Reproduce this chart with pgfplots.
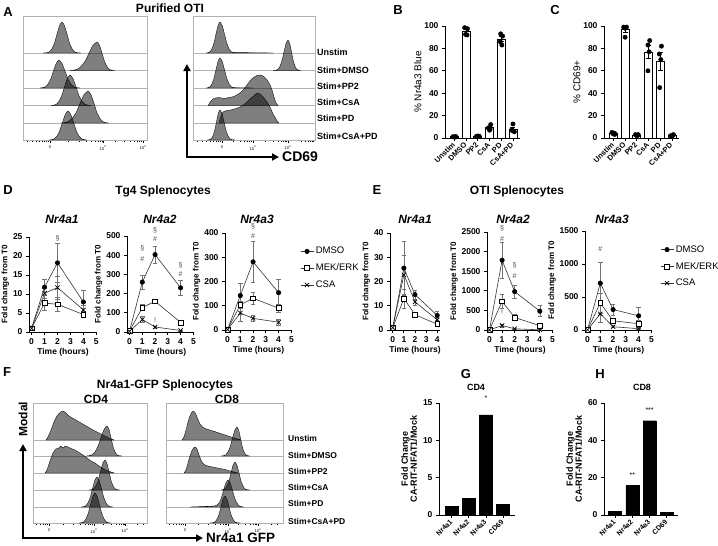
\documentclass[border=0pt]{standalone}
\usepackage{fontspec}
\setmainfont{Liberation Sans}
\usepackage{pgfplots}
\pgfplotsset{compat=1.18}
\usetikzlibrary{arrows.meta}

\newcommand{\fs}[1]{\fontsize{#1}{#1}\selectfont}

\pgfplotsset{
  gp/.style={scale only axis, clip=false,
    axis x line*=bottom, axis y line*=left,
    axis line style={line width=0.9pt,-},
    every tick/.style={black,line width=0.8pt},
    major tick length=3pt, tick align=outside,
    tick label style={font=\bfseries\fs{8.5}},
    /pgf/number format/assume math mode=true,
    /pgf/number format/1000 sep={},
    scaled ticks=false,
    xlabel style={font=\bfseries\fs{8.5}, yshift=3pt},
    ylabel style={font=\bfseries\fs{8}, yshift=-3pt}},
  tc/.style={gp, xmin=-0.2, xmax=5.05, xtick={0,...,5}, ymin=0,
    xlabel={Time (hours)}, ylabel={Fold change from T0}},
  bc/.style={gp, ymin=0, xmin=-0.8, xmax=5.6, ymax=100, ytick={0,20,...,100},
    xtick={0,...,5}, xticklabels={Unstim,DMSO,PP2,CsA,PD,CsA+PD},
    xticklabel style={rotate=45, anchor=east, font=\bfseries\fs{7.5}, yshift=-1.5pt, xshift=1pt},
    ylabel style={font=\fs{10}, yshift=-1pt}},
  hist/.style={scale only axis, ymin=0, xmin=0,
    axis line style={gray!60, line width=0.5pt},
    ytick=\empty, xtick pos=left, tick align=outside,
    major tick length=2.5pt, minor tick length=1.5pt,
    every tick/.style={black,line width=0.4pt},
    tick label style={font=\fs{4}},
    xticklabels={0,10\textsuperscript{3},10\textsuperscript{4}}},
  hf/.style={smooth, tension=0.35, fill=black, fill opacity=0.5, draw=black, line width=0.35pt, mark=none},
  bl/.style={gray!60, line width=0.4pt, mark=none},
  eb/.style={error bars/.cd, y dir=both, y explicit,
    error bar style={black!55, line width=0.5pt},
    error mark options={rotate=90, black!55, line width=0.5pt, mark size=2.2pt}},
  s1/.style={black!80, line width=0.6pt, mark=*, mark size=2.2pt, mark options={fill=black, draw=black}, eb},
  s2/.style={black!80, line width=0.6pt, mark=square*, mark size=2.4pt, mark options={fill=white, draw=black, line width=0.6pt}, eb},
  s3/.style={black!80, line width=0.6pt, mark=x, mark size=3pt, mark options={draw=black, line width=0.7pt}, eb},
  lg/.style={legend style={at={(#1)}, anchor=north west, draw=none, fill=none, font=\fs{9.5}, row sep=4.5pt, inner sep=0pt, cells={anchor=west}},
    legend image code/.code={\draw[mark repeat=2, mark phase=2, ##1] plot coordinates {(0pt,0pt) (6.5pt,0pt) (13pt,0pt)};}},
  bareb/.style={error bars/.cd, y dir=both, y explicit, error bar style={line width=0.8pt},
    error mark options={rotate=90, line width=0.8pt, mark size=2.5pt}},
  gh/.style={gp, xtick={0,...,3}, xticklabels={Nr4a1,Nr4a2,Nr4a3,CD69},
    xticklabel style={rotate=45, anchor=east, font=\bfseries\fs{7}, yshift=-1.5pt, xshift=1pt},
    ylabel={Fold Change\\CA-RIT-NFAT1/Mock}, ylabel style={align=center, font=\bfseries\fs{9}, yshift=2pt}},
}

\begin{document}
\begin{tikzpicture}
\path[use as bounding box] (0,0) rectangle (718pt,-546pt);

% ---------- panel letters and titles
\foreach \l/\x/\y in {A/8/12, B/398/10, C/555/10, D/8/190, E/377/190, F/7/372, G/466/374, H/600/374}
  \node[font=\bfseries\fs{13}] at (\x pt,-\y pt) {\l};
\node[font=\bfseries\fs{12}] at (170pt,-8pt) {Purified OTI};
\node[font=\bfseries\fs{12}] at (163pt,-191pt) {Tg4 Splenocytes};
\node[font=\bfseries\fs{12}] at (517pt,-191pt) {OTI Splenocytes};
\node[font=\bfseries\fs{12}] at (165pt,-385pt) {Nr4a1-GFP Splenocytes};
\node[font=\bfseries\fs{12}] at (96pt,-399pt) {CD4};
\node[font=\bfseries\fs{12}] at (227pt,-399pt) {CD8};
\foreach \t/\x in {Nr4a1/62, Nr4a2/160, Nr4a3/257, Nr4a1/415, Nr4a2/513, Nr4a3/612}
  \node[font=\bfseries\itshape\fs{12}] at (\x pt,-219pt) {\t};
\node[font=\bfseries\fs{9}] at (476pt,-387pt) {CD4};
\node[font=\bfseries\fs{9}] at (642pt,-387pt) {CD8};

% ---------- A histograms (left)
\begin{axis}[hist, at={(23pt,-140pt)}, anchor=south west, width=124pt, height=124pt,
  xmax=124, ymax=124, xtick={27,80,120},
  minor xtick={4,9,13,16,19,21,23,25,45,56,63,68,72,75,77,79,92,101,107,111,114,116,118}]
\addplot[bl] coordinates {(0,87) (124,87)};
\addplot[bl] coordinates {(0,69.5) (124,69.5)};
\addplot[bl] coordinates {(0,52) (124,52)};
\addplot[bl] coordinates {(0,34.5) (124,34.5)};
\addplot[bl] coordinates {(0,17) (124,17)};
\addplot[hf] coordinates {(20,87) (24,87.3) (26.5,88.2) (29,91.3) (31.5,97) (34,106) (36.5,114.3) (39,118) (41.5,114.3) (44,106) (46.5,97) (49,91.3) (51.5,88.2) (54,87.3) (58,87)} -- cycle;
\addplot[hf] coordinates {(47,69.5) (50,69.8) (54,70.6) (58,73.5) (62,78.6) (66,86.9) (70,94.6) (74,98) (76.5,94.6) (79,86.9) (81.5,78.6) (84,73.5) (86.5,70.6) (89,69.8) (92,69.5)} -- cycle;
\addplot[hf] coordinates {(17,52) (19.5,52.3) (22.25,53.1) (25,55.9) (27.75,61) (30.5,69.1) (33.25,76.6) (36,80) (39,76.6) (42,69.1) (45,61) (48,55.9) (51,53.1) (54,52.3) (57,52)} -- cycle;
\addplot[hf] coordinates {(28,34.5) (30.5,34.8) (33.25,35.7) (36,38.8) (38.75,44.3) (41.5,53.1) (44.25,61.3) (47,65) (50,61.3) (53,53.1) (56,44.3) (59,38.8) (62,35.7) (65,34.8) (68,34.5)} -- cycle;
\addplot[hf] coordinates {(38,17) (41,17.3) (45,18.3) (49,21.5) (53,27.2) (57,36.5) (61,45.2) (65,49) (68,45.2) (71,36.5) (74,27.2) (77,21.5) (80,18.3) (83,17.3) (86,17)} -- cycle;
\addplot[hf] coordinates {(26,0) (28.5,0.3) (31.25,1.2) (34,3.9) (36.75,9.3) (39.5,17.7) (42.25,25.5) (45,29) (47.75,25.5) (50.5,17.7) (53.25,9.3) (56,3.9) (58.75,1.2) (61.5,0.3) (64,0)} -- cycle;
\end{axis}

% ---------- A histograms (right)
\begin{axis}[hist, at={(193pt,-140pt)}, anchor=south west, width=122pt, height=124pt,
  xmax=122, ymax=124, xtick={29,60,95},
  minor xtick={4,9,13,17,20,23,25,27,40,47,51,54,56,58,72,80,85,88,90,92,93.5,108,112,115,117,119,120.5}]
\addplot[bl] coordinates {(0,87) (122,87)};
\addplot[bl] coordinates {(0,69.5) (122,69.5)};
\addplot[bl] coordinates {(0,52) (122,52)};
\addplot[bl] coordinates {(0,34.5) (122,34.5)};
\addplot[bl] coordinates {(0,17) (122,17)};
\addplot[hf] coordinates {(13,87) (15,87.3) (17,88.2) (19,91.3) (21,97) (23,106) (25,114.3) (27,118) (29.25,114.3) (31.5,106) (33.75,97) (36,91.3) (38.25,88.2) (40.5,87.6) (50,87.4) (65,87.2) (80,87)} -- cycle;
\addplot[hf] coordinates {(80,69.5) (83,69.8) (85,70.7) (87,73.8) (89,79.3) (91,88.1) (93,96.3) (95,100) (96.75,96.3) (98.5,88.1) (100.25,79.3) (102,73.8) (103.75,70.7) (105.5,69.8) (108,69.5)} -- cycle;
\addplot[hf] coordinates {(13,52) (15,52.3) (17,53.2) (19,56.2) (21,61.6) (23,70.3) (25,78.4) (27,82) (29.25,78.4) (31.5,70.3) (33.75,61.6) (36,56.2) (38.25,53.2) (40.5,52.4) (50,52.2) (60,52)} -- cycle;
\addplot[hf] coordinates {(15,34.5) (18,39) (21,41.5) (26,42.5) (31,41.5) (36,42.5) (41,43.5) (47,47) (51,51) (54,55) (57,59) (60,62) (64,64.5) (67,65) (70,64) (74,60) (77,55) (79,50) (81,43) (83,37) (85,34.5)} -- cycle;
\addplot[hf] coordinates {(26,17) (28,24) (30,28) (34,29.5) (38,30) (43,31.5) (47,33) (51,35.5) (54,38) (57,41) (60,43.5) (64,47) (67,46) (70,43) (74,38) (77,33) (80,26) (82,23) (84,19) (86,17)} -- cycle;
\addplot[hf] coordinates {(14,0) (16.5,0.3) (18.25,1.2) (20,4.2) (21.75,9.6) (23.5,18.3) (25.25,26.4) (27,30) (29,26.4) (31,18.3) (33,9.6) (35,4.2) (37,1.2) (39,0.3) (42,0)} -- cycle;
\end{axis}
\foreach \t/\y in {Unstim/52, Stim+DMSO/70, Stim+PP2/86, Stim+CsA/102, Stim+PD/118, Stim+CsA+PD/136}
  \node[font=\bfseries\fs{9}, anchor=west, inner sep=0pt] at (317pt,-\y pt) {\t};
\draw[line width=1.8pt, {Triangle[length=7pt,width=7pt]}-{Triangle[length=7pt,width=7pt]}] (187pt,-64pt) -- (187pt,-157pt) -- (279pt,-157pt);
\node[font=\bfseries\fs{14}, anchor=west, inner sep=0pt] at (282pt,-157pt) {CD69};

% ---------- B
\begin{axis}[bc, at={(445pt,-138pt)}, anchor=south west, width=75pt, height=112pt, ylabel={\% Nr4a3 Blue}]
\addplot[ybar, bar width=8pt, fill=white, draw=black, line width=0.9pt, bareb]
  coordinates {(0,1.1) +- (0,0.2) (1,95.1) +- (0,1.7) (2,1.5) +- (0,0.2) (3,9) +- (0,1.1) (4,88.3) +- (0,2.2) (5,7.9) +- (0,1.5)};
\addplot[only marks, mark=*, mark size=2.2pt, black] coordinates {
  (-0.12,1.2) (0.1,1) (0,0.8) (0.12,1.3)
  (0.88,98.5) (1.12,97.5) (0.95,92.5) (1.08,92)
  (1.88,1.5) (2.1,1.2) (2,1.8) (2.12,1.6)
  (3.1,12) (2.9,9) (3,7) (3.05,8)
  (3.95,93) (4.12,91) (3.92,86) (4.05,83)
  (5,12.5) (4.88,7) (5.12,5.5) (5,6.5)};
\end{axis}

% ---------- C
\begin{axis}[bc, at={(604pt,-138pt)}, anchor=south west, width=75pt, height=112pt, ylabel={\% CD69+}]
\addplot[ybar, bar width=8pt, fill=white, draw=black, line width=0.9pt, bareb]
  coordinates {(0,4) +- (0,0.4) (1,96.5) +- (0,2.2) (2,2.6) +- (0,0.3) (3,76.8) +- (0,5.9) (4,68) +- (0,8) (5,2.2) +- (0,0.3)};
\addplot[only marks, mark=*, mark size=2.2pt, black] coordinates {
  (-0.12,5) (0.1,4.3) (0,3.6) (0.12,3.2)
  (0.88,99) (1.12,99) (1,98) (1,90)
  (1.88,3) (2.1,2.5) (2,2) (2.12,3)
  (3.1,87) (2.95,83) (3.05,77) (2.95,60)
  (4.1,82) (3.92,75) (4.05,70) (3.95,45)
  (4.88,2) (5.1,2.5) (5,1.5) (5.12,3)};
\end{axis}

% ---------- D
\begin{axis}[tc, at={(29pt,-332pt)}, anchor=south west, width=68pt, height=95pt, ymax=25, ytick={0,5,...,25}]
\addplot[s1] coordinates {(0,1) +- (0,0.2) (1,11.8) +- (0,2.2) (2,18.2) +- (0,5.2) (4,7.9) +- (0,3.0)};
\addplot[s2] coordinates {(0,1) +- (0,0.2) (1,7.6) +- (0,2.0) (2,7.3) +- (0,1.8) (4,4.6) +- (0,0.8)};
\addplot[s3] coordinates {(0,1) +- (0,0.2) (1,10.2) +- (0,1.2) (2,11.7) +- (0,3.1) (4,5.8) +- (0,1.2)};
\node[font=\fs{7}, black!70] at (axis cs:2,24.8) {§};
\end{axis}
\begin{axis}[tc, at={(127pt,-332pt)}, anchor=south west, width=67pt, height=96pt, ymax=500, ytick={0,100,...,500}]
\addplot[s1] coordinates {(0,5) +- (0,1) (1,260) +- (0,35) (2,403) +- (0,45) (4,230) +- (0,38)};
\addplot[s2] coordinates {(0,5) +- (0,1) (1,127) +- (0,15) (2,160) +- (0,8) (4,50) +- (0,6)};
\addplot[s3] coordinates {(0,3) +- (0,1) (1,65) +- (0,15) (2,26) +- (0,6) (4,8) +- (0,3)};
\node[font=\fs{7}, black!70] at (axis cs:1,382) {\#};
\node[font=\fs{7}, black!70] at (axis cs:1,434) {§};
\node[font=\fs{7}, black!70] at (axis cs:2,483) {\#};
\node[font=\fs{7}, black!70] at (axis cs:2,530) {§};
\node[font=\fs{7}, black!70] at (axis cs:4,304) {\#};
\node[font=\fs{7}, black!70] at (axis cs:4,347) {§};
\node[font=\fs{7}, black!70] at (axis cs:2,62) {!};
\end{axis}
\begin{axis}[tc, at={(225pt,-330pt)}, anchor=south west, width=67pt, height=97pt, ymax=400, ytick={0,100,...,400},
  lg={1.12,0.875}]
\addplot[s1] coordinates {(0,2) +- (0,1) (1,142) +- (0,50) (2,281) +- (0,85) (4,154) +- (0,57)};
\addlegendentry{DMSO}
\addplot[s2] coordinates {(0,2) +- (0,1) (1,104) +- (0,15) (2,131) +- (0,25) (4,90) +- (0,15)};
\addlegendentry{MEK/ERK}
\addplot[s3] coordinates {(0,2) +- (0,1) (1,70) +- (0,33) (2,48) +- (0,13) (4,32) +- (0,14)};
\addlegendentry{CSA}
\node[font=\fs{7}, black!70] at (axis cs:2,386) {\#};
\node[font=\fs{7}, black!70] at (axis cs:2,427) {§};
\end{axis}

% ---------- E
\begin{axis}[tc, at={(390pt,-330pt)}, anchor=south west, width=50pt, height=97pt, xmin=-0.25, xmax=4.25, xtick={0,...,4},
  ymax=40, ytick={0,10,...,40}]
\addplot[s1] coordinates {(0,1) +- (0,0.3) (1,25.5) +- (0,11.2) (2,14.6) +- (0,1.8) (4,6) +- (0,1.8)};
\addplot[s2] coordinates {(0,1) +- (0,0.3) (1,13) +- (0,4) (2,6.3) +- (0,0.6) (4,2.4) +- (0,0.5)};
\addplot[s3] coordinates {(0,1) +- (0,0.3) (1,22.8) +- (0,8) (2,11.6) +- (0,1.2) (4,4.2) +- (0,0.8)};
\end{axis}
\begin{axis}[tc, at={(487pt,-330pt)}, anchor=south west, width=66pt, height=98pt, ymax=2500, ytick={0,500,...,2500}]
\addplot[s1] coordinates {(0,5) +- (0,2) (1,1780) +- (0,450) (2,980) +- (0,160) (4,480) +- (0,140)};
\addplot[s2] coordinates {(0,5) +- (0,2) (1,730) +- (0,180) (2,320) +- (0,80) (4,110) +- (0,30)};
\addplot[s3] coordinates {(0,3) +- (0,1) (1,115) +- (0,40) (2,30) +- (0,10) (4,5) +- (0,3)};
\node[font=\fs{7}, black!70] at (axis cs:1,2330) {\#};
\node[font=\fs{7}, black!70] at (axis cs:1,2600) {§};
\node[font=\fs{7}, black!70] at (axis cs:2,1380) {\#};
\node[font=\fs{7}, black!70] at (axis cs:2,1640) {§};
\node[font=\fs{7}, black!70] at (axis cs:1,450) {!};
\end{axis}
\begin{axis}[tc, at={(585pt,-330pt)}, anchor=south west, width=67pt, height=99pt, ymax=1500, ytick={0,500,1000,1500},
  lg={1.12,0.875}]
\addplot[s1] coordinates {(0,5) +- (0,2) (1,710) +- (0,320) (2,310) +- (0,80) (4,215) +- (0,125)};
\addlegendentry{DMSO}
\addplot[s2] coordinates {(0,5) +- (0,2) (1,410) +- (0,150) (2,140) +- (0,30) (4,95) +- (0,60)};
\addlegendentry{MEK/ERK}
\addplot[s3] coordinates {(0,3) +- (0,1) (1,245) +- (0,130) (2,50) +- (0,15) (4,20) +- (0,10)};
\addlegendentry{CSA}
\node[font=\fs{7}, black!70] at (axis cs:1,1230) {\#};
\end{axis}

% ---------- F histograms (CD4)
\begin{axis}[hist, at={(33pt,-523pt)}, anchor=south west, width=114pt, height=120pt,
  xmax=114, ymax=120, xtick={16,61,92},
  minor xtick={3,7,10,12,14,30,40,47,52,55,57,59,70,78,83,86,88,90,91,104,110}]
\addplot[bl] coordinates {(0,83) (114,83)};
\addplot[bl] coordinates {(0,67) (114,67)};
\addplot[bl] coordinates {(0,50) (114,50)};
\addplot[bl] coordinates {(0,33) (114,33)};
\addplot[bl] coordinates {(0,16) (114,16)};
\addplot[hf] coordinates {(13,83) (15,86) (18,93) (21,101) (24,107) (27,110.5) (30,112) (33,110) (36,107) (42,103.5) (48,100) (54,96.5) (60,93) (66,90) (72,87) (77,84.5) (81,83)} -- cycle;
\addplot[hf] coordinates {(53,67) (56,67.3) (59,68.2) (62,71.2) (65,76.6) (68,85.3) (71,93.4) (74,97) (76,93.4) (78,85.3) (80,76.6) (82,71.2) (84,68.2) (86,67.3) (89,67)} -- cycle;
\addplot[hf] coordinates {(12,50) (14,53) (17,62) (20,70) (23,74) (26,75) (28,77) (30,75) (32,77) (35,76) (38,74.5) (42,73) (46,70.5) (50,68) (54,65) (58,62) (62,60) (66,57) (70,54.5) (74,52.5) (78,51) (81,50)} -- cycle;
\addplot[hf] coordinates {(56,33) (58.5,33.3) (60.75,34.2) (63,37.2) (65.25,42.6) (67.5,51.3) (69.75,59.4) (72,63) (74,59.4) (76,51.3) (78,42.6) (80,37.2) (82,34.2) (84,33.3) (87,33)} -- cycle;
\addplot[hf] coordinates {(48,16) (50.5,16.3) (52.75,17.2) (55,20.2) (57.25,25.6) (59.5,34.3) (61.75,42.4) (64,46) (66.25,42.4) (68.5,34.3) (70.75,25.6) (73,20.2) (75.25,17.2) (77.5,16.3) (80,16)} -- cycle;
\addplot[hf] coordinates {(46,0) (48.5,0.3) (50.75,1.2) (53,4.2) (55.25,9.6) (57.5,18.3) (59.75,26.4) (62,30) (64.25,26.4) (66.5,18.3) (68.75,9.6) (71,4.2) (73.25,1.2) (75.5,0.3) (78,0)} -- cycle;
\end{axis}

% ---------- F histograms (CD8)
\begin{axis}[hist, at={(166pt,-523pt)}, anchor=south west, width=117pt, height=120pt,
  xmax=117, ymax=120, xtick={19,62,92},
  minor xtick={3,7,10,13,15,17,32,42,49,54,57,59,60.5,72,79,84,87,89,90.5,105,111}]
\addplot[bl] coordinates {(0,83) (117,83)};
\addplot[bl] coordinates {(0,67) (117,67)};
\addplot[bl] coordinates {(0,50) (117,50)};
\addplot[bl] coordinates {(0,33) (117,33)};
\addplot[bl] coordinates {(0,16) (117,16)};
\addplot[hf] coordinates {(16,83) (18,86) (20,93) (22,101) (24,107) (26,111) (27.5,112) (29,110.5) (31,106) (33,101) (35,97.5) (38,95) (42,93.5) (47,92) (53,90) (59,88) (65,86) (70,84.5) (75,83)} -- cycle;
\addplot[hf] coordinates {(55,67) (57.5,67.3) (59.75,68.2) (62,71.1) (64.25,76.3) (66.5,84.7) (68.75,92.5) (71,96) (72.75,92.5) (74.5,84.7) (76.25,76.3) (78,71.1) (79.75,68.2) (81.5,67.3) (84,67)} -- cycle;
\addplot[hf] coordinates {(18,50) (20,53) (22,60) (24,67) (26,72.5) (28,75.5) (29.5,76) (31,74) (33,68) (35,63) (37,59.5) (40,57.5) (44,56.5) (49,55.5) (54,54.5) (59,53.5) (64,52) (68,51) (72,50)} -- cycle;
\addplot[hf] coordinates {(55,33) (57,33.3) (59,34.1) (61,36.9) (63,42) (65,50.1) (67,57.6) (69,61) (71,57.6) (73,50.1) (75,42) (77,36.9) (79,34.1) (81,33.3) (84,33)} -- cycle;
\addplot[hf] coordinates {(24,16) (35,16.4) (45,16.8) (48.5,17.1) (50.75,17.9) (53,19.8) (55.25,24.6) (57.5,32.5) (59.75,39.8) (62,43) (64.25,39.8) (66.5,32.5) (68.75,24.6) (71,19.8) (73.25,17.1) (75.5,16.3) (78,16)} -- cycle;
\addplot[hf] coordinates {(44,0) (47,0.3) (49,1.1) (51,3.8) (53,8.6) (55,16.5) (57,23.8) (59,27) (61,23.8) (63,16.5) (65,8.6) (67,3.8) (69,1.1) (71,0.3) (74,0)} -- cycle;
\end{axis}
\foreach \t/\y in {Unstim/438, Stim+DMSO/455, Stim+PP2/471, Stim+CsA/487, Stim+PD/503, Stim+CsA+PD/521}
  \node[font=\bfseries\fs{8.5}, anchor=west, inner sep=0pt] at (288pt,-\y pt) {\t};
\draw[line width=1.8pt, {Triangle[length=7pt,width=7pt]}-{Triangle[length=7pt,width=7pt]}] (23pt,-444pt) -- (23pt,-538pt) -- (203pt,-538pt);
\node[font=\bfseries\fs{13.5}, anchor=west, inner sep=0pt] at (206pt,-538pt) {Nr4a1 GFP};
\node[font=\bfseries\fs{12}, rotate=90] at (23pt,-419pt) {Modal};

% ---------- G
\begin{axis}[gh, at={(439pt,-515pt)}, anchor=south west, width=76pt, height=112pt,
  ymin=0, ymax=15, ytick={0,5,10,15}, xmin=-0.75, xmax=3.7]
\addplot[ybar, bar width=13pt, fill=black, draw=black] coordinates {(0,1.2) (1,2.2) (2,13.4) (3,1.4)};
\node[font=\fs{7}] at (axis cs:2,15.6) {*};
\end{axis}

% ---------- H
\begin{axis}[gh, at={(604pt,-515pt)}, anchor=south west, width=74pt, height=112pt,
  ymin=0, ymax=60, ytick={0,20,40,60}, xmin=-0.65, xmax=3.65]
\addplot[ybar, bar width=13pt, fill=black, draw=black] coordinates {(0,1.8) (1,15.7) (2,50.5) (3,1.3)};
\node[font=\fs{7}] at (axis cs:1,21.5) {**};
\node[font=\fs{7}] at (axis cs:2,56) {***};
\end{axis}
\end{tikzpicture}
\end{document}
